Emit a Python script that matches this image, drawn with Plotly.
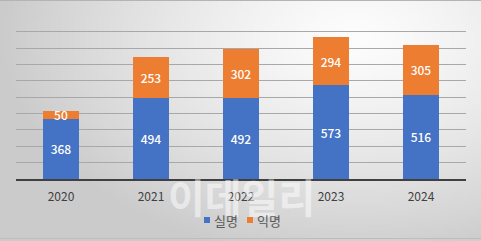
import base64, struct, zlib, math
import plotly.graph_objects as go

# ---- data ----
years = ["2020", "2021", "2022", "2023", "2024"]
real_name = [368, 494, 492, 573, 516]     # 실명
anonymous = [50, 253, 302, 294, 305]      # 익명
series_names = ["실명", "익명"]

BLUE = "#4472C4"
ORANGE = "#ED7D31"
FONT = "Noto Sans CJK KR"

W, H = 481, 241
ML, MR, MT, MB = 16, 15, 15, 62
PW, PH = W - ML - MR, H - MT - MB


def px_x(p):
    return (p - ML) / PW


def px_y(p):
    return (MT + PH - p) / PH


def gradient_png(w=160, h=80):
    rows = []
    for j in range(h):
        row = bytearray([0])
        for i in range(w):
            u, v = i / (w - 1), j / (h - 1)
            d = math.sqrt(((u - 0.74) / 0.75) ** 2 + ((v - 0.15) / 0.95) ** 2)
            val = 253 - 50 * min(1.0, d) ** 1.3
            row.append(max(0, min(255, int(val))))
        rows.append(bytes(row))
    raw = b"".join(rows)

    def chunk(t, data):
        c = struct.pack(">I", len(data)) + t + data
        return c + struct.pack(">I", zlib.crc32(t + data) & 0xFFFFFFFF)

    png = b"\x89PNG\r\n\x1a\n"
    png += chunk(b"IHDR", struct.pack(">IIBBBBB", w, h, 8, 0, 0, 0, 0))
    png += chunk(b"IDAT", zlib.compress(raw, 9))
    png += chunk(b"IEND", b"")
    return "data:image/png;base64," + base64.b64encode(png).decode()


fig = go.Figure()
for vals, name, col in [(real_name, series_names[0], BLUE), (anonymous, series_names[1], ORANGE)]:
    fig.add_trace(go.Bar(
        x=years, y=vals, name=name, marker_color=col, marker_line_width=0,
        text=[str(v) for v in vals], textposition="inside", insidetextanchor="middle",
        textangle=0, constraintext="none",
        textfont=dict(color="white", size=12, family=FONT, weight=500),
        showlegend=False, hoverinfo="skip"))

fig.add_layout_image(dict(
    source=gradient_png(), xref="paper", yref="paper",
    x=-ML / PW, y=1 + MT / PH, sizex=W / PW, sizey=H / PH,
    xanchor="left", yanchor="top", sizing="stretch", layer="below"))

# watermark
fig.add_annotation(
    text="이데일리", xref="paper", yref="paper", x=px_x(241), y=px_y(196),
    xanchor="center", yanchor="middle", showarrow=False,
    font=dict(family=FONT, size=40, color="rgba(255,255,255,0.5)", weight=700))

# legend (squares + labels)
legend_items = [(series_names[0], BLUE, 207), (series_names[1], ORANGE, 250)]
for name, col, sx in legend_items:
    fig.add_shape(type="rect", xref="paper", yref="paper",
                  x0=px_x(sx - 3), x1=px_x(sx + 3), y0=px_y(223), y1=px_y(217),
                  fillcolor=col, line_width=0)
    fig.add_annotation(text=name, xref="paper", yref="paper",
                       x=px_x(sx + 5), y=px_y(220), xanchor="left", yanchor="middle",
                       showarrow=False, font=dict(size=13, color="#595959", family=FONT))

# thin frame lines (top / bottom)
fig.add_shape(type="line", xref="paper", yref="paper",
              x0=px_x(0), x1=px_x(W), y0=px_y(0.5), y1=px_y(0.5),
              line=dict(color="#b4b4b4", width=1))
fig.add_shape(type="line", xref="paper", yref="paper",
              x0=px_x(0), x1=px_x(W), y0=px_y(238.5), y1=px_y(238.5),
              line=dict(color="#bdbdbd", width=1))

fig.update_layout(
    width=W, height=H, margin=dict(l=ML, r=MR, t=MT, b=MB, autoexpand=False),
    barmode="stack", bargap=0.61, showlegend=False,
    paper_bgcolor="#dcdcdc", plot_bgcolor="rgba(0,0,0,0)",
    font=dict(family=FONT, color="#595959", size=12),
    xaxis=dict(showline=True, linecolor="#404040", linewidth=2, ticks="",
               ticklabelstandoff=6,
               tickfont=dict(size=12, color="#404040"), showgrid=False),
    yaxis=dict(range=[0, 1002], tickvals=list(range(100, 1001, 100)), showgrid=True,
               gridcolor="#a8a8a8", gridwidth=1, showticklabels=False, zeroline=False),
)

fig.write_html("out.html")
